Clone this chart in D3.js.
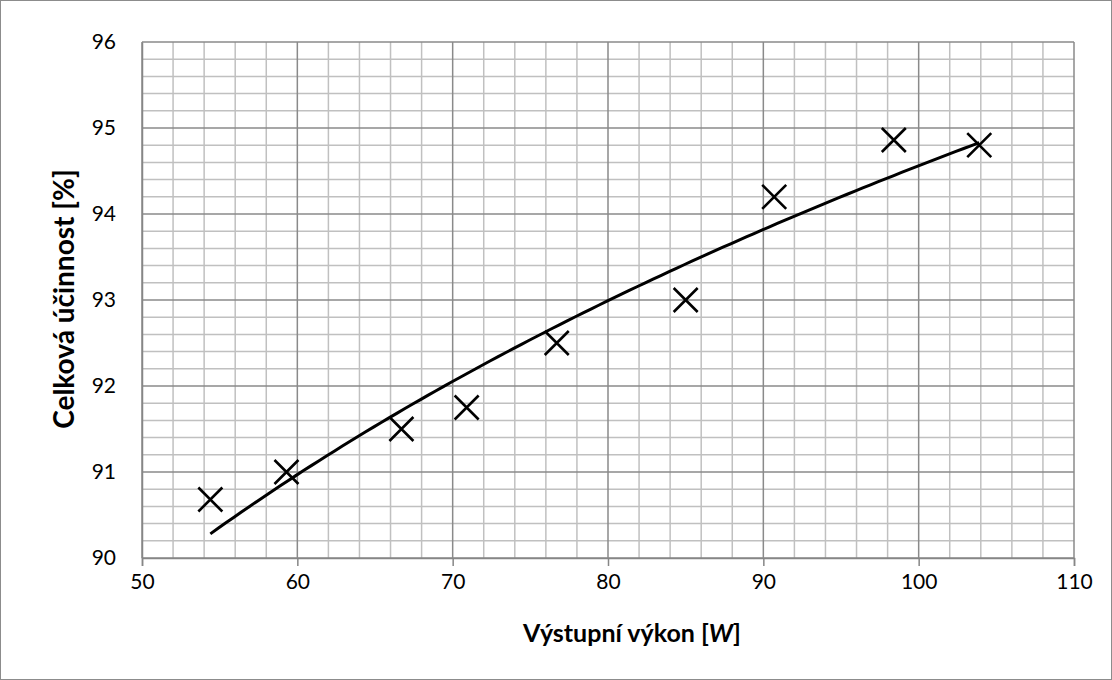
<!DOCTYPE html>
<html>
<head>
<meta charset="utf-8">
<script src="https://cdn.jsdelivr.net/npm/d3@7"></script>
<style>
  body { margin: 0; background: #fff; }
  text { font-family: Lato, "Liberation Sans", sans-serif; fill: #000; }
</style>
</head>
<body>
<script>
var power = [54.4, 59.3, 66.7, 70.9, 76.7, 85.0, 90.7, 98.4, 103.9];
var efficiency = [90.68, 91.0, 91.5, 91.75, 92.5, 93.0, 94.2, 94.86, 94.8];
var xTicks = [50, 60, 70, 80, 90, 100, 110];
var yTicks = [90, 91, 92, 93, 94, 95, 96];

var W = 1112, H = 680;
var margin = {top: 42, right: 38, bottom: 122, left: 142},
    width = 1074 - margin.left,
    height = 558 - margin.top;

var svg = d3.select("body").append("svg")
    .attr("width", W)
    .attr("height", H);

// outer chart border
svg.append("rect")
    .attr("x", 0.5).attr("y", 0.5)
    .attr("width", W - 1).attr("height", H - 1)
    .attr("fill", "#fff")
    .attr("stroke", "#8c8c8c");

var g = svg.append("g")
    .attr("transform", "translate(" + margin.left + "," + margin.top + ")");

var x = d3.scaleLinear().domain([50, 110]).range([0, width]);
var y = d3.scaleLinear().domain([90, 96]).range([height, 0]);

// minor grid
var xMinor = d3.range(50, 110.01, 2).filter(function(v) { return v % 10 !== 0; });
var yMinor = d3.range(90, 96.001, 0.2).filter(function(v) { return Math.abs(v - Math.round(v)) > 0.01; });

g.selectAll(".xminor").data(xMinor).enter().append("line")
    .attr("x1", function(d) { return x(d); }).attr("x2", function(d) { return x(d); })
    .attr("y1", 0).attr("y2", height)
    .attr("stroke", "#c0c0c0").attr("stroke-width", 1.5);
g.selectAll(".yminor").data(yMinor).enter().append("line")
    .attr("x1", 0).attr("x2", width)
    .attr("y1", function(d) { return y(d); }).attr("y2", function(d) { return y(d); })
    .attr("stroke", "#c0c0c0").attr("stroke-width", 1.5);

// major grid
g.selectAll(".xmajor").data(xTicks).enter().append("line")
    .attr("x1", function(d) { return x(d); }).attr("x2", function(d) { return x(d); })
    .attr("y1", 0).attr("y2", height)
    .attr("stroke", "#8a8a8a").attr("stroke-width", 1.5);
g.selectAll(".ymajor").data(yTicks).enter().append("line")
    .attr("x1", 0).attr("x2", width)
    .attr("y1", function(d) { return y(d); }).attr("y2", function(d) { return y(d); })
    .attr("stroke", "#8a8a8a").attr("stroke-width", 1.5);

// x axis
var xAxis = g.append("g")
    .attr("transform", "translate(0," + height + ")")
    .call(d3.axisBottom(x).tickValues(xTicks).tickFormat(d3.format("d")).tickSize(8).tickPadding(8));
xAxis.select(".domain").attr("stroke", "#868686").attr("stroke-width", 1.5);
xAxis.selectAll(".tick line").attr("stroke", "#868686").attr("stroke-width", 1.5);
xAxis.selectAll("text").style("font-size", "21px").attr("font-family", null);

// y axis
var yAxis = g.append("g")
    .call(d3.axisLeft(y).tickValues(yTicks).tickFormat(d3.format("d")).tickSize(0).tickPadding(26));
yAxis.select(".domain").attr("stroke", "#868686").attr("stroke-width", 1.5);
yAxis.selectAll("text").style("font-size", "21px").attr("font-family", null);

// logarithmic trend line fitted to the data (least squares on ln x)
var lx = power.map(Math.log);
var mx = d3.mean(lx), my = d3.mean(efficiency);
var slope = d3.sum(lx, function(v, i) { return (v - mx) * (efficiency[i] - my); }) /
            d3.sum(lx, function(v) { return (v - mx) * (v - mx); });
var icpt = my - slope * mx;
var xs = d3.range(d3.min(power), d3.max(power) + 0.001, 0.5);
g.append("path")
    .datum(xs)
    .attr("fill", "none")
    .attr("stroke", "#000")
    .attr("stroke-width", 3)
    .attr("d", d3.line()
        .x(function(d) { return x(d); })
        .y(function(d) { return y(icpt + slope * Math.log(d)); }));

// X markers
var s = 12;
g.selectAll(".pt").data(power).enter().append("path")
    .attr("fill", "none")
    .attr("stroke", "#000")
    .attr("stroke-width", 2.6)
    .attr("d", function(d, i) {
        var cx = x(d), cy = y(efficiency[i]);
        return "M" + (cx - s) + "," + (cy - s) + "L" + (cx + s) + "," + (cy + s) +
               "M" + (cx - s) + "," + (cy + s) + "L" + (cx + s) + "," + (cy - s);
    });

// axis titles
var xt = svg.append("text")
    .attr("text-anchor", "middle")
    .attr("x", 632).attr("y", 642)
    .style("font-size", "25px").style("font-weight", "bold");
xt.append("tspan").text("Výstupní výkon [");
xt.append("tspan").style("font-style", "italic").text("W");
xt.append("tspan").text("]");

svg.append("text")
    .attr("text-anchor", "middle")
    .attr("transform", "translate(74,299)rotate(-90)")
    .style("font-size", "28px").style("font-weight", "bold")
    .text("Celková účinnost [%]");
</script>
</body>
</html>
